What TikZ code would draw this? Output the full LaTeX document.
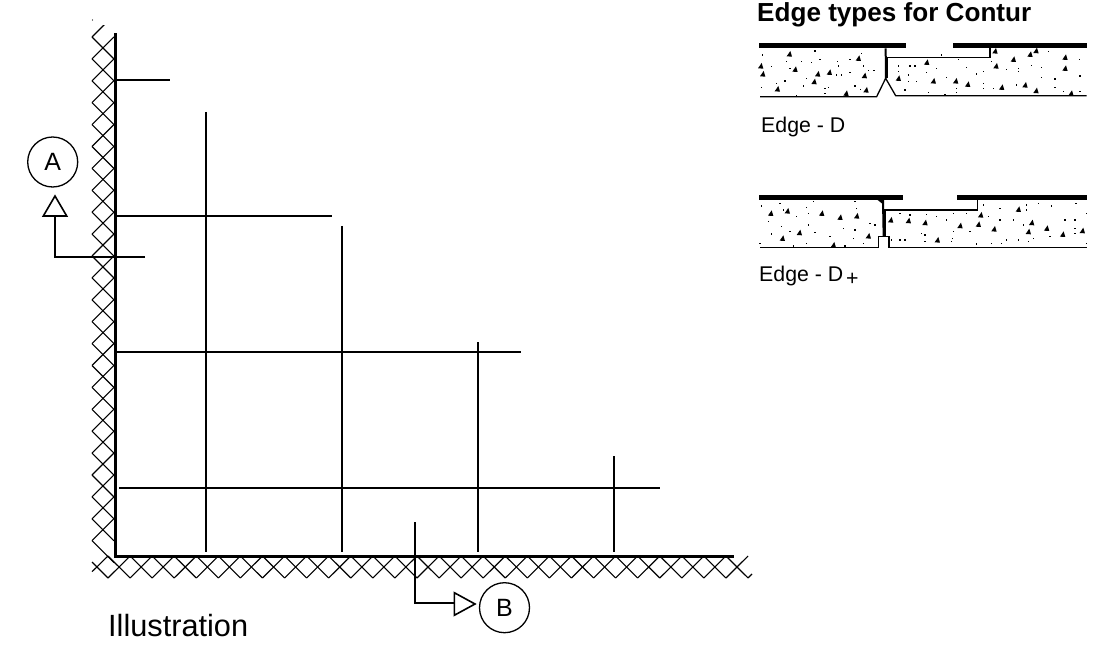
\documentclass[tikz,border=0pt]{standalone}
\usepackage{fontspec}
\setmainfont{Liberation Sans}
\tikzset{
  hatchline/.style={line width=1.1pt,black},
  thickline/.style={line width=3pt,black},
  gridline/.style={line width=2pt,black},
  thinline/.style={line width=2pt,black},
  bar/.style={line width=5pt,black},
  joint/.style={line width=2pt,black},
  slab/.style={line width=1.3pt,black},
  bubble/.style={draw,circle,line width=1.3pt,minimum size=50pt,inner sep=0pt,font=\fontsize{25}{25}\selectfont},
  lbl/.style={anchor=base west,inner sep=0pt},
  tip/.style={draw=black,fill=white,line width=1.6pt,line join=miter}
}
\newcommand{\grains}[2]{%
  \foreach \x/\y in {#1} {\fill[black] (\x-8,\y+7)--(\x+8,\y+8)--(\x+3,\y-9)--cycle;}
  \foreach \x/\y in {#2} {\fill[black] (\x-2.2,\y-2.2) rectangle (\x+2.2,\y+2.2);}
}
\begin{document}
\begin{tikzpicture}[x=1pt,y=-1pt]
\useasboundingbox (0,0) rectangle (1097,652);
% left hatching
\begin{scope}
\clip (90,26) rectangle (116,578);
\foreach \k in {0,...,23} {
  \pgfmathsetmacro{\yy}{37+21.9*\k}
  \draw[hatchline] (92,\yy)--(114,\yy-22);
  \draw[hatchline] (92,\yy)--(114,\yy+22);
}
\end{scope}
\fill (92.5,20) circle (0.6pt);
% bottom hatching
\draw[hatchline] (92,562)--(108,578);
\draw[hatchline] (92,571.7)--(108,556);
\foreach \k in {0,...,28} {
  \pgfmathsetmacro{\xx}{108+22.07*\k}
  \draw[hatchline] (\xx,578)--(\xx+22.07,556);
}
\foreach \k in {1,...,29} {
  \pgfmathsetmacro{\xx}{108+22.07*\k}
  \draw[hatchline] (\xx,578)--(\xx-22.07,556);
}
\draw[hatchline] (748,578)--(752,574);
% walls
\draw[thickline,line cap=rect] (115.5,35)--(115.5,556)--(732,556);
% grid
\draw[gridline] (116,80)--(170,80);
\draw[gridline] (116,216)--(332,216);
\draw[gridline] (116,352)--(521,352);
\draw[gridline] (119,488)--(660,488);
\draw[gridline] (206,112)--(206,552);
\draw[gridline] (342,226)--(342,552);
\draw[gridline] (478,342)--(478,552);
\draw[gridline] (614,456)--(614,552);
% section A
\node[bubble] (A) at (52.7,162) {A};
\draw[thinline] (145,257)--(55,257)--(55,216);
\draw[tip] (43.3,216)--(66.7,216)--(55,196)--cycle;
% section B
\node[bubble] (B) at (504.5,607.7) {B};
\draw[thinline] (415,522)--(415,603)--(454.3,603);
\draw[tip] (454.3,592.7)--(454.3,615.3)--(475,604)--cycle;
% texts
\node[lbl,font=\fontsize{30.7}{30.7}\selectfont] (ill) at (108,636) {Illustration};
\node[lbl,font=\bfseries\fontsize{26.1}{26}\selectfont] (title) at (757,21.7) {Edge types for Contur};
\node[lbl,font=\fontsize{21.3}{21}\selectfont] (ed) at (761,132.7) {Edge - D};
\node[lbl,font=\fontsize{21.3}{21}\selectfont] (edp) at (759,281.7) {Edge - D};
\node[lbl,font=\fontsize{21.3}{21}\selectfont] (plus) at (846,285) {+};
% Edge D detail
\begin{scope}[shift={(740,0)},x=0.3333pt,y=-0.3333pt]
\draw[bar] (58,136)--(497,136);
\draw[bar] (640,136)--(1042,136);
\draw[slab] (60,290)--(410,290)--(437,235)--(467,287)--(1040,287);
\draw[joint] (437,145)--(438,235);
\draw[slab] (443,235)--(443,173)--(750,173)--(750,145);
\grains{148/162,355/175,165/208,68/222,233/222,268/217,222/245,373/227,112/267,318/280,378/270,62/198,765/153,820/178,870/163,888/152,975/172,975/205,768/198,560/187,475/235,580/243,647/243,683/253,785/262,855/255,888/272,993/280}
{68/165,95/200,140/185,150/205,185/185,215/188,225/153,240/178,292/185,295/198,330/178,365/160,370/198,385/212,402/212,200/235,135/243,110/250,65/262,190/258,255/265,265/262,255/280,345/258,362/268,290/225,305/225,330/218,475/198,475/215,510/198,525/198,590/205,605/165,655/178,680/203,710/222,730/215,755/185,800/208,835/205,835/215,875/197,905/203,925/155,1018/178,1020/228,945/237,905/232,505/225,505/245,530/245,560/218,620/232,650/265,730/250,730/265,760/265,830/255,945/262,970/275,1020/275,565/278,650/278,495/270,615/285,170/287}
\end{scope}
% Edge D+ detail
\begin{scope}[shift={(740,180)},x=0.3333pt,y=-0.3333pt]
\draw[bar] (58,52)--(488,52);
\draw[bar] (652,52)--(1042,52);
\draw[slab] (60,202)--(415,202)--(415,170)--(447,170)--(447,202)--(1040,202);
\draw[joint] (429,60)--(431,170);
\fill[black] (413,60)--(430,60)--(428,72)--cycle;
\draw[slab] (435,170)--(435,90)--(713,90)--(713,60);
\grains{92/100,142/93,245/100,300/112,350/108,127/175,178/158,385/168,280/195,452/120,505/122,555/128,722/105,835/88,660/137,715/133,762/147,875/128,865/155,920/145,968/163,1027/152,592/180}
{65/78,120/70,130/90,200/82,205/100,170/110,220/65,345/65,350/85,85/125,125/140,205/135,95/162,150/155,225/158,270/170,310/145,345/150,390/130,405/135,200/190,340/175,370/190,160/198,60/190,315/198,480/100,510/105,560/103,590/110,620/120,640/100,680/100,640/155,638/175,635/185,555/165,555/185,480/180,495/180,455/180,545/160,730/75,780/85,860/75,860/90,895/70,935/78,1008/70,1005/120,1040/100,820/120,850/135,975/120,1005/145,1005/160,800/180,835/180,865/185,880/175,785/190,755/190,710/192,930/170,690/155,745/110,780/120,1040/190}
\end{scope}
\end{tikzpicture}
\end{document}
